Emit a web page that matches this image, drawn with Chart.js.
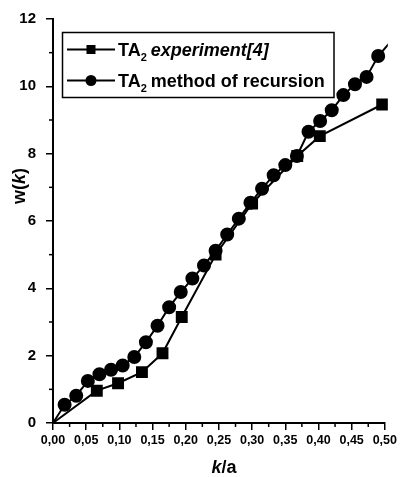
<!DOCTYPE html>
<html>
<head>
<meta charset="utf-8">
<script src="https://cdn.jsdelivr.net/npm/chart.js@4/dist/chart.umd.min.js"></script>
<style>
html,body{margin:0;padding:0;background:#fff;}
#wrap{position:relative;width:400px;height:477px;}
</style>
</head>
<body>
<div id="wrap"><canvas id="c" width="400" height="477"></canvas></div>
<script>
// ---- data ----
const kExp = [0, 0.066, 0.098, 0.134, 0.165, 0.194, 0.245, 0.300, 0.368, 0.402, 0.496];
const wExp = [0, 0.96, 1.18, 1.51, 2.07, 3.15, 5.00, 6.52, 7.93, 8.52, 9.46];

const kRec = [0, 0.0175, 0.035, 0.0525, 0.07, 0.0875, 0.105, 0.1225, 0.14, 0.1575, 0.175,
              0.1925, 0.21, 0.2275, 0.245, 0.2625, 0.28, 0.2975, 0.315, 0.3325, 0.35,
              0.3675, 0.385, 0.4025, 0.42, 0.4375, 0.455, 0.4725, 0.49, 0.5075];
const wRec = [0, 0.54, 0.81, 1.25, 1.45, 1.58, 1.71, 1.96, 2.40, 2.89, 3.44,
              3.89, 4.29, 4.68, 5.12, 5.60, 6.07, 6.54, 6.96, 7.36, 7.66,
              7.93, 8.65, 8.97, 9.29, 9.74, 10.06, 10.28, 10.90, 11.30];

const xTickStep = 0.05, xMinorStep = 0.025;
const yTickStep = 2, yMinorStep = 1;
const legendLabels = [
  {main: 'TA', sub: '2', rest: ' experiment[4]', italic: true, style: 'rect'},
  {main: 'TA', sub: '2', rest: ' method of recursion', italic: false, style: 'circle'}
];
const xTitle = [{t: 'k', i: true}, {t: '/a', i: false}];
const yTitle = [{t: 'w(', i: false}, {t: 'k', i: true}, {t: ')', i: false}];

const FONT = '"Liberation Sans", Arial, sans-serif';
const toPts = (ks, ws) => ks.map((k, i) => ({x: k, y: ws[i]}));

function drawSegments(ctx, segs, size, cx, cy) {
  let total = 0;
  segs.forEach(s => { ctx.font = (s.i ? 'italic ' : '') + 'bold ' + size + 'px ' + FONT; s.w = ctx.measureText(s.t).width; total += s.w; });
  let x = cx - total / 2;
  ctx.textBaseline = 'middle'; ctx.textAlign = 'left';
  segs.forEach(s => { ctx.font = (s.i ? 'italic ' : '') + 'bold ' + size + 'px ' + FONT; ctx.fillText(s.t, x, cy); x += s.w; });
}

const extras = {
  id: 'extras',
  afterDraw(chart) {
    const ctx = chart.ctx, xs = chart.scales.x, ys = chart.scales.y, ca = chart.chartArea;
    ctx.save();
    ctx.strokeStyle = '#000'; ctx.fillStyle = '#000'; ctx.lineWidth = 1.5;
    // minor ticks
    for (let v = yMinorStep; v < 12; v += yTickStep) {
      const p = ys.getPixelForValue(v);
      ctx.beginPath(); ctx.moveTo(ca.left - 4, p); ctx.lineTo(ca.left, p); ctx.stroke();
    }
    for (let v = xMinorStep; v < 0.5; v += xTickStep) {
      const p = xs.getPixelForValue(v);
      ctx.beginPath(); ctx.moveTo(p, ca.bottom); ctx.lineTo(p, ca.bottom + 4); ctx.stroke();
    }
    // axis titles
    drawSegments(ctx, xTitle, 18, (ca.left + ca.right) / 2 + 5, 468);
    ctx.save(); ctx.translate(20, 186); ctx.rotate(-Math.PI / 2);
    drawSegments(ctx, yTitle, 18, 0, 0);
    ctx.restore();
    // legend
    ctx.lineWidth = 1.5;
    ctx.strokeRect(62.5, 32.5, 271.5, 65);
    const rows = [49.5, 80.5];
    legendLabels.forEach((l, i) => {
      const y = rows[i];
      ctx.lineWidth = 2;
      ctx.beginPath(); ctx.moveTo(67, y); ctx.lineTo(115, y); ctx.stroke();
      if (l.style === 'rect') ctx.fillRect(91 - 4.5, y - 4.5, 9, 9);
      else { ctx.beginPath(); ctx.arc(91, y, 5.5, 0, Math.PI * 2); ctx.fill(); }
      let x = 118;
      ctx.textBaseline = 'alphabetic'; ctx.textAlign = 'left';
      ctx.font = 'bold 18px ' + FONT;
      ctx.fillText(l.main, x, y + 6.5); x += ctx.measureText(l.main).width;
      ctx.font = 'bold 11px ' + FONT;
      ctx.fillText(l.sub, x, y + 11); x += ctx.measureText(l.sub).width - 1;
      ctx.font = (l.italic ? 'italic ' : '') + 'bold 18px ' + FONT;
      ctx.fillText(l.rest, x, y + 6.5);
    });
    ctx.restore();
  }
};

new Chart(document.getElementById('c'), {
  type: 'scatter',
  data: {
    datasets: [
      {
        label: 'TA2 experiment[4]',
        data: toPts(kExp, wExp),
        showLine: true,
        borderColor: '#000', backgroundColor: '#000', borderWidth: 2,
        pointStyle: 'rect',
        pointRadius: kExp.map(k => k === 0 ? 0 : 7),
        pointHoverRadius: 7,
        clip: 3
      },
      {
        label: 'TA2 method of recursion',
        data: toPts(kRec, wRec),
        showLine: true,
        borderColor: '#000', backgroundColor: '#000', borderWidth: 2,
        pointStyle: 'circle',
        pointRadius: kRec.map(k => (k === 0 || k > 0.5) ? 0 : 6),
        pointHoverRadius: 6,
        clip: 3
      }
    ]
  },
  options: {
    responsive: false,
    animation: false,
    layout: {padding: {left: 0, right: 13, top: 17, bottom: 0}},
    plugins: {legend: {display: false}, tooltip: {enabled: false}},
    scales: {
      x: {
        type: 'linear', min: 0, max: 0.5,
        afterFit(s) { s.height = 54; },
        ticks: {
          stepSize: xTickStep, color: '#000', padding: 3,
          font: {family: FONT, weight: 'bold', size: 12.5},
          maxRotation: 0, autoSkip: false,
          callback: v => v.toFixed(2).replace('.', ',')
        },
        grid: {drawOnChartArea: false, drawTicks: true, tickLength: 7, color: '#000', lineWidth: 1.5},
        border: {display: true, color: '#000', width: 2}
      },
      y: {
        type: 'linear', min: 0, max: 12,
        afterFit(s) { s.width = 53; },
        ticks: {
          stepSize: yTickStep, color: '#000', padding: 10,
          font: {family: FONT, weight: 'bold', size: 15}
        },
        grid: {drawOnChartArea: false, drawTicks: true, tickLength: 7, color: '#000', lineWidth: 1.5},
        border: {display: true, color: '#000', width: 2}
      }
    }
  },
  plugins: [extras]
});
</script>
</body>
</html>
